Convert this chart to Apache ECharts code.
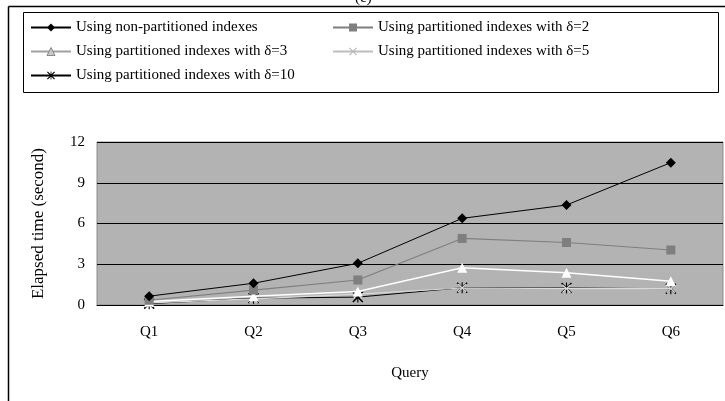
<!DOCTYPE html>
<html><head><meta charset="utf-8">
<script src="https://cdn.jsdelivr.net/npm/echarts@6/dist/echarts.min.js"></script>
<style>html,body{margin:0;padding:0;background:#fff}#c{width:725px;height:401px}</style>
</head><body><div id="c"></div>
<script>
const categories = ['Q1','Q2','Q3','Q4','Q5','Q6'];
const seriesNames = ['Using non-partitioned indexes','Using partitioned indexes with \u03b4=2','Using partitioned indexes with \u03b4=3','Using partitioned indexes with \u03b4=5','Using partitioned indexes with \u03b4=10'];
const nonPartitioned = [0.65, 1.6, 3.07, 6.38, 7.36, 10.48];
const delta2 = [0.35, 1.1, 1.84, 4.9, 4.6, 4.05];
const delta3 = [0.25, 0.65, 1.0, 2.75, 2.38, 1.75];
const delta5 = [0.15, 0.45, 0.8, 1.25, 1.2, 1.2];
const delta10 = [0.1, 0.5, 0.58, 1.27, 1.25, 1.2];
const yTicks = [0, 3, 6, 9, 12];

const FONT = '"Liberation Serif", "Times New Roman", serif';
const xPath = 'path://M0,1L1,0L5,4L9,0L10,1L6,5L10,9L9,10L5,6L1,10L0,9L4,5Z';
const starPath = 'path://M0,1L1,0L4.5,3.5L4.5,0L5.5,0L5.5,3.5L9,0L10,1L6,5L10,9L9,10L5.5,6.5L5.5,10L4.5,10L4.5,6.5L1,10L0,9L4,5Z';

const styles = [
  {color:'#000000', symbol:'diamond', size:10, width:1},
  {color:'#7f7f7f', symbol:'rect', size:9, width:1.2},
  {color:'#ffffff', symbol:'triangle', size:10, width:1.5},
  {color:'#d9d9d9', symbol:xPath, size:9, width:1.2},
  {color:'#000000', symbol:starPath, size:11, width:1}
];
const dataArr = [nonPartitioned, delta2, delta3, delta5, delta10];

const chart = echarts.init(document.getElementById('c'));
const legendCommon = {
  orient:'vertical', itemWidth:40, itemHeight:10, itemGap:9, padding:0,
  textStyle:{fontFamily:FONT, fontSize:15, color:'#000'}, selectedMode:false
};
chart.setOption({
  animation:false,
  backgroundColor:'#ffffff',
  graphic:[
    {type:'line', shape:{x1:8.5,y1:6.5,x2:725,y2:6.5}, style:{stroke:'#000', lineWidth:1.5}},
    {type:'line', shape:{x1:8.5,y1:6.5,x2:8.5,y2:401}, style:{stroke:'#000', lineWidth:1.5}},
    {type:'rect', shape:{x:23.5,y:12.5,width:695,height:80}, style:{fill:'none', stroke:'#000', lineWidth:1}},
    {type:'text', left:355, top:-9, style:{text:'(c)', font:'15px '+FONT, fill:'#000'}}
  ],
  legend:[
    Object.assign({left:30, top:20, data:[
      seriesNames[0],
      {name:seriesNames[2], itemStyle:{color:'#c8c8c8', borderColor:'#8a8a8a', borderWidth:1}, lineStyle:{color:'#a0a0a0'}},
      seriesNames[4]
    ]}, legendCommon),
    Object.assign({left:332, top:20, data:[
      seriesNames[1],
      {name:seriesNames[3], itemStyle:{color:'#b8b8b8'}, lineStyle:{color:'#bdbdbd'}}
    ]}, legendCommon)
  ],
  grid:{left:97, right:2, top:142, bottom:96, show:true, backgroundColor:'#b3b3b3', borderColor:'#8c8c8c', borderWidth:1},
  xAxis:{
    type:'category', data:categories, boundaryGap:true,
    name:'Query', nameLocation:'middle', nameGap:61,
    nameTextStyle:{fontFamily:FONT, fontSize:15, color:'#000'},
    axisLine:{lineStyle:{color:'#000', width:1}},
    axisTick:{inside:true, length:5, lineStyle:{color:'#000'}},
    axisLabel:{fontFamily:FONT, fontSize:15, color:'#000', margin:20}
  },
  yAxis:{
    type:'value', min:yTicks[0], max:yTicks[yTicks.length-1], interval:3,
    name:'Elapsed time (second)', nameLocation:'middle', nameGap:50,
    nameTextStyle:{fontFamily:FONT, fontSize:17, color:'#000'},
    axisLine:{show:false}, axisTick:{show:false},
    axisLabel:{fontFamily:FONT, fontSize:15, color:'#000', margin:12},
    splitLine:{lineStyle:{color:'#000', width:1}}
  },
  series: seriesNames.map((n,i)=>({
    name:n, type:'line', data:dataArr[i],
    symbol:styles[i].symbol, symbolSize:styles[i].size, showSymbol:true,
    lineStyle:{color:styles[i].color, width:styles[i].width},
    itemStyle:{color:styles[i].color},
    z: 10 - i
  }))
});
</script></body></html>
